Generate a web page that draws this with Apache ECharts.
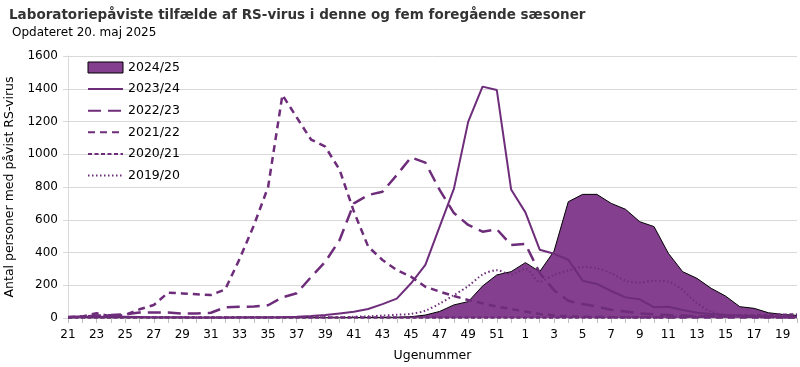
<!DOCTYPE html>
<html>
<head>
<meta charset="utf-8">
<script src="https://cdn.jsdelivr.net/npm/echarts@6/dist/echarts.min.js"></script>
<style>html,body{margin:0;padding:0;background:#fff}#c{width:800px;height:367px}</style>
</head>
<body>
<div id="c"></div>
<script>
const weeks = ['21','22','23','24','25','26','27','28','29','30','31','32','33','34','35','36','37','38','39','40','41','42','43','44','45','46','47','48','49','50','51','52','1','2','3','4','5','6','7','8','9','10','11','12','13','14','15','16','17','18','19','20'];
const yTicks = [0,200,400,600,800,1000,1200,1400,1600];
const seasonNames = ['2024/25','2023/24','2022/23','2021/22','2020/21','2019/20'];

const s2425 = [3,2,2,2,2,2,1,1,1,1,1,1,1,1,1,1,2,2,2,2,3,3,4,5,8,18,40,80,100,195,263,283,338,283,408,710,755,755,700,664,588,558,395,283,242,181,134,69,59,32,22,16];
const s2324 = [8,8,8,7,7,6,5,5,4,3,3,3,4,4,5,6,8,12,18,28,38,55,85,118,212,324,558,790,1199,1413,1392,785,645,417,392,356,228,208,165,126,114,65,69,49,32,25,18,15,12,10,8,6];
const s2223 = [5,8,15,18,22,33,33,33,26,28,32,65,68,70,78,126,151,250,344,476,700,751,771,873,981,949,782,641,568,527,542,446,452,275,170,105,85,70,50,40,28,22,18,15,12,10,10,8,7,6,5,5];
const s2122 = [5,10,29,10,18,53,79,155,150,145,140,175,360,565,800,1362,1225,1090,1046,905,650,436,354,293,252,191,161,134,110,90,70,55,40,25,15,10,8,6,5,5,4,4,3,3,3,3,3,3,3,3,3,3];
const s2021 = [3,3,3,3,3,3,3,3,3,3,3,3,3,3,3,3,3,3,3,3,3,3,3,3,3,3,3,3,3,3,3,3,3,3,3,3,3,3,3,3,3,3,5,6,8,10,12,14,16,18,20,22];
const s1920 = [4,4,4,4,4,4,4,4,4,4,4,4,4,4,4,4,4,4,4,4,8,10,15,20,25,45,88,140,195,265,292,265,300,222,263,290,312,303,273,228,216,228,222,171,90,39,18,10,6,4,3,2];

const FONT = 'DejaVu Sans';
const LINE = '#6E2D7A';
const FILL = '#84408F';

const chart = echarts.init(document.getElementById('c'), null, {renderer: 'canvas'});
chart.setOption({
  animation: false,
  backgroundColor: '#fff',
  textStyle: {fontFamily: FONT},
  title: [
    {text: 'Laboratoriepåviste tilfælde af RS-virus i denne og fem foregående sæsoner', left: 4, top: 3,
     textStyle: {fontFamily: FONT, fontSize: 13.5, fontWeight: 'bold', color: '#333'}},
    {text: 'Opdateret 20. maj 2025', left: 7, top: 22,
     textStyle: {fontFamily: FONT, fontSize: 12, fontWeight: 'normal', color: '#000'}}
  ],
  grid: {left: 68, right: 3, top: 56, bottom: 49, containLabel: false, outerBoundsMode: 'none'},
  legend: {
    orient: 'vertical', left: 82, top: 56, itemWidth: 35, itemHeight: 11, itemGap: 8.6,
    textStyle: {fontFamily: FONT, fontSize: 12.5, color: '#000'},
    itemStyle: {opacity: 0},
    data: [
      {name: seasonNames[0], icon: 'rect', itemStyle: {color: FILL, borderColor: '#000', borderWidth: 1, opacity: 1}},
      seasonNames[1], seasonNames[2], seasonNames[3], seasonNames[4], seasonNames[5]
    ]
  },
  xAxis: {
    type: 'category', data: weeks, boundaryGap: false,
    name: 'Ugenummer', nameLocation: 'middle', nameGap: 31,
    nameTextStyle: {fontFamily: FONT, fontSize: 12.5, color: '#000'},
    axisLine: {lineStyle: {color: '#bfbfbf'}},
    axisTick: {show: true, interval: 0, length: 5, lineStyle: {color: '#bfbfbf'}},
    axisLabel: {interval: 1, color: '#000', fontFamily: FONT, fontSize: 12, margin: 11}
  },
  yAxis: {
    type: 'value', min: yTicks[0], max: yTicks[yTicks.length - 1], interval: yTicks[1] - yTicks[0],
    name: 'Antal personer med påvist RS-virus', nameLocation: 'middle', nameGap: 48, nameRotate: 90,
    nameTextStyle: {fontFamily: FONT, fontSize: 12.5, color: '#000'},
    axisLine: {show: true, lineStyle: {color: '#d9d9d9'}},
    axisTick: {show: true, length: 5, lineStyle: {color: '#d9d9d9'}},
    splitLine: {lineStyle: {color: '#d9d9d9', width: 1}},
    axisLabel: {color: '#000', fontFamily: FONT, fontSize: 12, margin: 10, formatter: v => String(v)}
  },
  series: [
    {name: seasonNames[0], type: 'line', data: s2425, symbol: 'none', z: 1,
     itemStyle: {color: FILL},
     lineStyle: {color: '#000', width: 1},
     areaStyle: {color: FILL, opacity: 1}},
    {name: seasonNames[1], type: 'line', data: s2324, symbol: 'none', z: 2,
     itemStyle: {color: LINE}, lineStyle: {color: LINE, width: 2}},
    {name: seasonNames[2], type: 'line', data: s2223, symbol: 'none', z: 2,
     itemStyle: {color: LINE}, lineStyle: {color: LINE, width: 2.5, type: [13, 7]}},
    {name: seasonNames[3], type: 'line', data: s2122, symbol: 'none', z: 2,
     itemStyle: {color: LINE}, lineStyle: {color: LINE, width: 2.5, type: [7, 5]}},
    {name: seasonNames[4], type: 'line', data: s2021, symbol: 'none', z: 2,
     itemStyle: {color: LINE}, lineStyle: {color: LINE, width: 2.5, type: [4, 2.5]}},
    {name: seasonNames[5], type: 'line', data: s1920, symbol: 'none', z: 2, smooth: 0.3,
     itemStyle: {color: LINE}, lineStyle: {color: LINE, width: 2, type: [1.5, 2.5]}}
  ]
});
</script>
</body>
</html>
